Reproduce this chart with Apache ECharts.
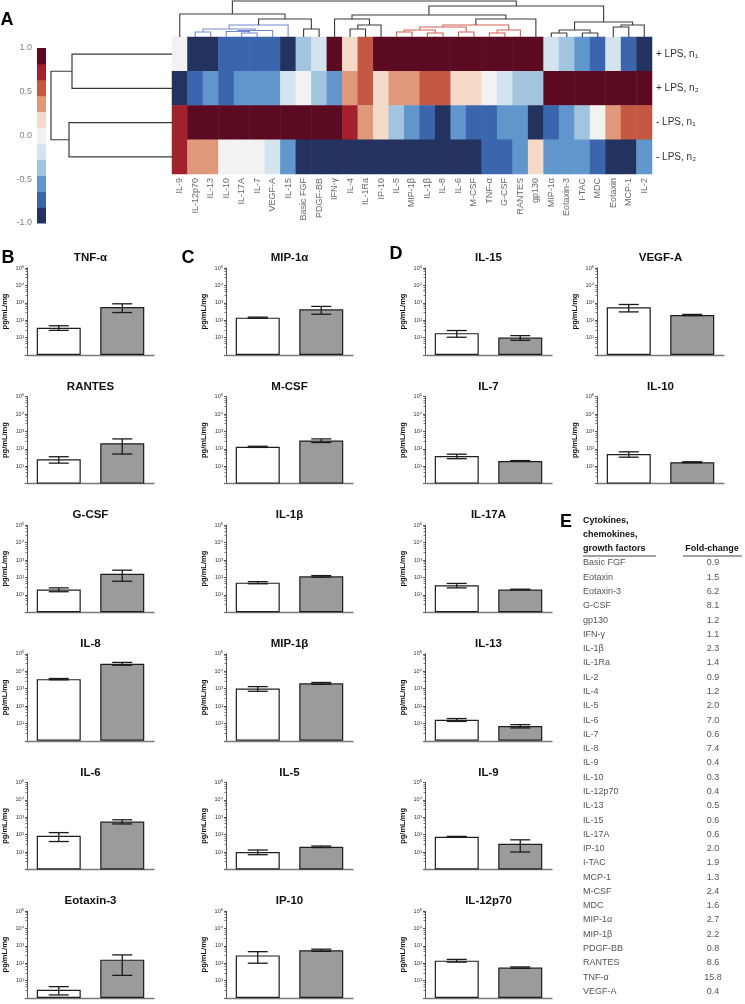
<!DOCTYPE html>
<html><head><meta charset="utf-8">
<script src="https://cdn.jsdelivr.net/npm/echarts@6/dist/echarts.min.js"></script>
<style>html,body{margin:0;padding:0;background:#fff}#c{width:745px;height:1004px}</style>
</head><body><div id="c"></div>
<script>
// ---------------- DATA ----------------
const heatCols = ['IL-9','IL-12p70','IL-13','IL-10','IL-17A','IL-7','VEGF-A','IL-15','Basic FGF','PDGF-BB','IFN-γ','IL-4','IL-1Ra','IP-10','IL-5','MIP-1β','IL-1β','IL-8','IL-6','M-CSF','TNF-α','G-CSF','RANTES','gp130','MIP-1α','Eotaxin-3','I-TAC','MDC','Eotaxin','MCP-1','IL-2'];
const heatRows = ['+ LPS, n₁','+ LPS, n₂','- LPS, n₁','- LPS, n₂'];
const heatPlusN1  = [0,-1,-1,-0.8,-0.8,-0.8,-0.8,-1,-0.4,-0.2,1,0.2,0.6,1,1,1,1,1,1,1,1,1,1,1,-0.2,-0.4,-0.6,-0.8,-0.2,-0.8,-1];
const heatPlusN2  = [-1,-0.8,-0.6,-0.8,-0.6,-0.6,-0.6,-0.2,0,-0.4,-0.6,0.4,0.6,0.2,0.4,0.4,0.6,0.6,0.2,0.2,0,-0.2,-0.4,-0.4,1,1,1,1,1,1,1];
const heatMinusN1 = [0.8,1,1,1,1,1,1,1,1,1,1,0.8,0.4,0.2,-0.4,-0.6,-0.8,-1,-0.6,-0.8,-0.8,-0.6,-0.6,-1,-0.8,-0.6,-0.4,0,0.4,0.6,0.6];
const heatMinusN2 = [0.8,0.4,0.4,0,0,0,-0.2,-0.6,-1,-1,-1,-1,-1,-1,-1,-1,-1,-1,-1,-1,-0.8,-0.8,-0.6,0.2,-0.6,-0.6,-0.6,-0.8,-1,-1,-0.6];
const colorSteps = ['#24325f','#3b66ae','#6096cb','#a2c5df','#d4e4ef','#f2f2f2','#f6dac8','#e0987a','#c45842','#a3202d','#5c0a22'];
const colorTicks = [-1,-0.5,0,0.5,1];

// column dendrogram (leaves = heatCols index, internal nodes = 31 + row)
const colLinkLeft   = [1,4,3,33,31,35,8,36,0, 11,40,10, 14,16,43,18,45,20,48,47,50,42, 24,26,53,28,56,55,52,39];
const colLinkRight  = [2,5,32,6,34,7,9,37,38, 12,13,41, 15,17,44,19,46,21,22,49,23,51, 25,27,54,29,30,57,58,59];
const colLinkHeight = [5,4,5.5,6.5,8,12,8,18,23, 8,12,18, 5,4,7,5,10,4,7,12,18,22, 4,4,7,10,12,15,31,36];
const colLinkGroup  = [1,1,1,1,1,1,0,0,0, 0,0,0, 2,2,2,2,2,2,2,2,0,0, 0,0,0,0,0,0,0,0];
// row dendrogram
const rowLinkLeft = [0,2,4];
const rowLinkRight = [1,3,5];
const rowLinkHeight = [100,103,121];

// bar panels
const barNames = ['TNF-α','MIP-1α','IL-15','VEGF-A','RANTES','M-CSF','IL-7','IL-10','G-CSF','IL-1β','IL-17A','IL-8','MIP-1β','IL-13','IL-6','IL-5','IL-9','Eotaxin-3','IP-10','IL-12p70'];
const barGroups = ['- LPS','+ LPS'];
const ctrlMean = [37,140,18,550,25,130,38,50,20,50,35,3500,1000,16,85,10,75,3,280,140];
const ctrlErr  = [11,10,7.5,250,10,10,11,17,5,7,10,300,300,3,45,3,4,1.5,180,25];
const lpsMean  = [575,420,10,200,210,300,20,17,160,115,20,27000,2000,7,560,20,30,160,560,56];
const lpsErr   = [300,200,3,15,160,70,1,1,100,12,1,5000,250,1.5,150,2,20,140,80,5];
const logTickLabels = ['10⁰','10¹','10²','10³','10⁴','10⁵'];

// table E
const tableNames = ['Basic FGF','Eotaxin','Eotaxin-3','G-CSF','gp130','IFN-γ','IL-1β','IL-1Ra','IL-2','IL-4','IL-5','IL-6','IL-7','IL-8','IL-9','IL-10','IL-12p70','IL-13','IL-15','IL-17A','IP-10','I-TAC','MCP-1','M-CSF','MDC','MIP-1α','MIP-1β','PDGF-BB','RANTES','TNF-α','VEGF-A'];
const tableFold  = ['0.9','1.5','6.2','8.1','1.2','1.1','2.3','1.4','0.9','1.2','2.0','7.0','0.6','7.4','0.4','0.3','0.4','0.5','0.6','0.6','2.0','1.9','1.3','2.4','1.6','2.7','2.2','0.8','8.6','15.8','0.4'];

// ---------------- LAYOUT ----------------
const FONT = '"Liberation Sans", Arial, sans-serif';
const slotCol = [0,1,2,3, 0,1,2,3, 0,1,2, 0,1,2, 0,1,2, 0,1,2];
const slotRow = [0,0,0,0, 1,1,1,1, 2,2,2, 3,3,3, 4,4,4, 5,5,5];
const colLeft = [27,226,425,597];
const rowBottom = r => 355 + 128.6 * r;
const dendroColors = ['#3a3a3a','#7089d2','#d4604f'];

const grids=[], xAxes=[], yAxes=[], series=[], graphics=[];

// heatmap
grids.push({left:172, top:37, width:480, height:137});
xAxes.push({type:'category', gridIndex:0, data:heatCols, position:'bottom', axisLine:{show:false}, axisTick:{show:false}, splitLine:{show:false},
  axisLabel:{rotate:90, fontSize:9, color:'#6a6a6a', margin:4, fontFamily:FONT, interval:0}});
yAxes.push({type:'category', gridIndex:0, data:heatRows, inverse:true, position:'right', axisLine:{show:false}, axisTick:{show:false}, splitLine:{show:false},
  axisLabel:{fontSize:10, color:'#333', margin:4, fontFamily:FONT}});
const heatData=[];
[heatPlusN1,heatPlusN2,heatMinusN1,heatMinusN2].forEach((r,ri)=>r.forEach((v,ci)=>heatData.push([ci,ri,v])));
series.push({type:'heatmap', xAxisIndex:0, yAxisIndex:0, data:heatData, emphasis:{disabled:true}, silent:true});

// dendrogram helpers
function buildDendro(nLeaves, L, R, H){
  const pos=[], hh=[], segs=[];
  for(let i=0;i<nLeaves;i++){pos.push(i+0.5); hh.push(0);}
  for(let k=0;k<L.length;k++){
    const a=L[k], b=R[k];
    segs.push([pos[a],hh[a],pos[b],hh[b],H[k],k]);
    pos.push((pos[a]+pos[b])/2); hh.push(H[k]);
  }
  return segs;
}
// column dendrogram
grids.push({left:172, top:0, width:480, height:37});
xAxes.push({type:'value', gridIndex:1, min:0, max:heatCols.length, show:false});
yAxes.push({type:'value', gridIndex:1, min:0, max:37, show:false});
series.push({type:'custom', xAxisIndex:1, yAxisIndex:1, silent:true, clip:false,
  data: buildDendro(heatCols.length, colLinkLeft, colLinkRight, colLinkHeight),
  renderItem:(p,api)=>{
    const xa=api.value(0),ha=api.value(1),xb=api.value(2),hb=api.value(3),h=api.value(4),k=api.value(5);
    return {type:'polyline', shape:{points:[api.coord([xa,ha]),api.coord([xa,h]),api.coord([xb,h]),api.coord([xb,hb])]},
      style:{stroke:dendroColors[colLinkGroup[k]], lineWidth:1.1, fill:null}};
  }});
// row dendrogram
grids.push({left:51, top:37, width:121, height:137});
xAxes.push({type:'value', gridIndex:2, min:0, max:121, inverse:true, show:false});
yAxes.push({type:'value', gridIndex:2, min:0, max:heatRows.length, inverse:true, show:false});
series.push({type:'custom', xAxisIndex:2, yAxisIndex:2, silent:true, clip:false,
  data: buildDendro(heatRows.length, rowLinkLeft, rowLinkRight, rowLinkHeight),
  renderItem:(p,api)=>{
    const ya=api.value(0),ha=api.value(1),yb=api.value(2),hb=api.value(3),h=api.value(4);
    return {type:'polyline', shape:{points:[api.coord([ha,ya]),api.coord([h,ya]),api.coord([h,yb]),api.coord([hb,yb])]},
      style:{stroke:'#3a3a3a', lineWidth:1.2, fill:null}};
  }});
// colorbar
grids.push({left:37, top:48, width:9, height:175});
xAxes.push({type:'value', gridIndex:3, min:0, max:1, show:false});
yAxes.push({type:'value', gridIndex:3, min:-1, max:1, interval:0.5, axisLine:{show:false}, axisTick:{show:false}, splitLine:{show:false},
  axisLabel:{formatter:v=>v.toFixed(1), fontSize:9, color:'#808080', margin:5, fontFamily:FONT}});
const stepW = 2/colorSteps.length;
series.push({type:'custom', xAxisIndex:3, yAxisIndex:3, silent:true,
  data: colorSteps.map((c,k)=>[-1+k*stepW, -1+(k+1)*stepW, k]),
  renderItem:(p,api)=>{
    const a=api.coord([0,api.value(1)]), b=api.coord([1,api.value(0)]);
    return {type:'rect', shape:{x:a[0],y:a[1],width:b[0]-a[0],height:b[1]-a[1]+0.5}, style:{fill:colorSteps[api.value(2)]}};
  }});

// bar charts
function errRender(p,api){
  const x=api.value(0), lo=api.value(1), hi=api.value(2);
  const a=api.coord([x,lo]), b=api.coord([x,hi]); const cw=10;
  const st={stroke:'#1a1a1a', lineWidth:1.3};
  return {type:'group', children:[
    {type:'line', shape:{x1:a[0],y1:a[1],x2:b[0],y2:b[1]}, style:st},
    {type:'line', shape:{x1:a[0]-cw,y1:a[1],x2:a[0]+cw,y2:a[1]}, style:st},
    {type:'line', shape:{x1:b[0]-cw,y1:b[1],x2:b[0]+cw,y2:b[1]}, style:st}]};
}
barNames.forEach((name,i)=>{
  const gi = grids.length;
  const left = colLeft[slotCol[i]], bottom = rowBottom(slotRow[i]);
  grids.push({left:left, top:bottom-87, width:127, height:87});
  xAxes.push({type:'category', gridIndex:gi, data:barGroups, axisLine:{lineStyle:{color:'#7a7a7a', width:1.3}}, axisTick:{show:false}, axisLabel:{show:false}});
  yAxes.push({type:'log', gridIndex:gi, min:1, max:1e5, logBase:10,
    name:'pg/mL/mg', nameLocation:'middle', nameGap:18, nameTextStyle:{fontWeight:'bold', fontSize:7.5, color:'#111', fontFamily:FONT},
    axisLine:{show:true, lineStyle:{color:'#555', width:1}}, axisTick:{show:true, length:2, lineStyle:{color:'#555'}},
    minorTick:{show:true, splitNumber:5, length:1.5, lineStyle:{color:'#777'}}, splitLine:{show:false},
    axisLabel:{fontSize:5.5, color:'#333', margin:3, fontFamily:FONT,
      formatter:v=>{const e=Math.round(Math.log10(v)); return e<=0?'':logTickLabels[e];}}});
  series.push({type:'bar', xAxisIndex:gi, yAxisIndex:gi, barWidth:44, silent:true,
    itemStyle:{borderColor:'#1e1e1e', borderWidth:1.2},
    data:[{value:ctrlMean[i], itemStyle:{color:'#ffffff'}},{value:lpsMean[i], itemStyle:{color:'#9b9b9b'}}]});
  series.push({type:'custom', xAxisIndex:gi, yAxisIndex:gi, silent:true, z:5, renderItem:errRender,
    data:[[0, ctrlMean[i]-ctrlErr[i], ctrlMean[i]+ctrlErr[i]],[1, lpsMean[i]-lpsErr[i], lpsMean[i]+lpsErr[i]]]});
  graphics.push({type:'text', x:left+63.5, y:bottom-97, style:{text:name, fill:'#111', font:'bold 11.5px '+FONT, textAlign:'center', align:'center', textVerticalAlign:'middle', verticalAlign:'middle'}});
});

// panel letters
function letter(t,x,y){graphics.push({type:'text', x:x, y:y, style:{text:t, fill:'#000', font:'bold 18px '+FONT, textAlign:'center', align:'center', textVerticalAlign:'middle', verticalAlign:'middle'}});}
letter('A',7,20); letter('B',8,258); letter('C',188,258); letter('D',396,254); letter('E',566,522);

// table E
function txt(t,x,y,opt){graphics.push({type:'text', x:x, y:y, style:Object.assign({text:t, fill:'#555', font:'9px '+FONT, textAlign:'left', align:'left', textVerticalAlign:'middle', verticalAlign:'middle'},opt||{})});}
const hdr={fill:'#111', font:'bold 9px '+FONT};
txt('Cytokines,',583,521,hdr); txt('chemokines,',583,535,hdr); txt('growth factors',583,549,hdr);
txt('Fold-change',712,549,Object.assign({textAlign:'center',align:'center'},hdr));
graphics.push({type:'line', shape:{x1:583,y1:556,x2:656,y2:556}, style:{stroke:'#444', lineWidth:1}});
graphics.push({type:'line', shape:{x1:683,y1:556,x2:742,y2:556}, style:{stroke:'#444', lineWidth:1}});
tableNames.forEach((n,i)=>{
  const y = 563 + i*14.28;
  txt(n,583,y);
  txt(tableFold[i],713,y,{textAlign:'center',align:'center'});
});

const chart = echarts.init(document.getElementById('c'));
chart.setOption({
  animation:false,
  backgroundColor:'#fff',
  textStyle:{fontFamily:FONT},
  grid:grids, xAxis:xAxes, yAxis:yAxes,
  visualMap:{type:'piecewise', show:false, seriesIndex:0, dimension:2,
    pieces: colorSteps.map((c,k)=> k===colorSteps.length-1 ? {gte:-1+k*stepW-1e-9, lte:1.0001, color:c} : {gte:-1+k*stepW-1e-9, lt:-1+(k+1)*stepW-1e-9, color:c})},
  series:series,
  graphic:graphics
});
</script></body></html>
